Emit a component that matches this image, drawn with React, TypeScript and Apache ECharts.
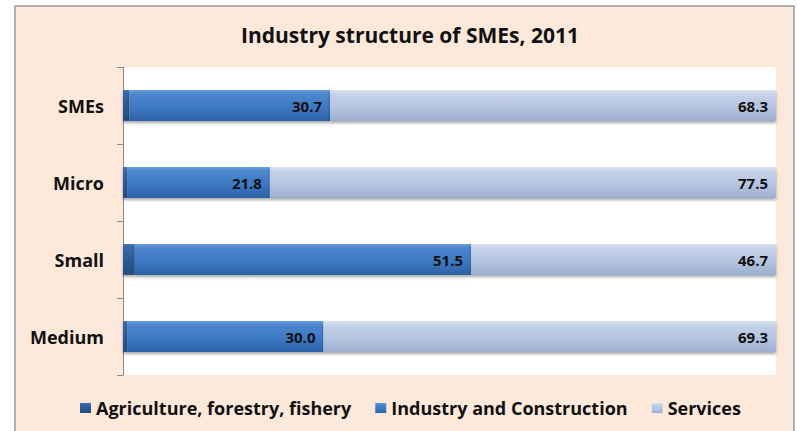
import React, { useEffect, useRef } from "react";
import * as echarts from "echarts";

const categories = ["SMEs", "Micro", "Small", "Medium"];
const agriculture = [1.0, 0.7, 1.8, 0.7];
const industry = [30.7, 21.8, 51.5, 30.0];
const services = [68.3, 77.5, 46.7, 69.3];

const FONT = "'Open Sans', Lato, sans-serif";

export default function App() {
  const ref = useRef<HTMLDivElement>(null);
  useEffect(() => {
    const chart = echarts.init(ref.current!, null, { renderer: "svg" });
    const shadow = {
      shadowBlur: 3,
      shadowOffsetY: 2,
      shadowColor: "rgba(0,0,0,0.35)",
    };
    const label = {
      show: true,
      position: "insideRight" as const,
      distance: 8,
      color: "#111",
      fontWeight: "bold" as const,
      fontSize: 15,
      fontFamily: FONT,
      formatter: (p: any) => Number(p.value).toFixed(1),
    };
    chart.setOption({
      animation: false,
      backgroundColor: "#ffffff",
      graphic: [
        {
          type: "rect",
          shape: { x: 15, y: 6, width: 779, height: 440 },
          style: { fill: "#fde9da", stroke: "#9a9a9a", lineWidth: 1.5 },
          z: -10,
          silent: true,
        },
      ],
      title: {
        text: "Industry structure of SMEs, 2011",
        left: 236,
        top: 19,
        textStyle: { fontFamily: FONT, fontWeight: "bold", fontSize: 21, color: "#111" },
      },
      grid: {
        left: 123,
        right: 21,
        top: 67,
        bottom: 56,
        show: true,
        backgroundColor: "#ffffff",
        borderWidth: 0,
      },
      xAxis: {
        type: "value",
        min: 0,
        max: 100,
        show: false,
      },
      yAxis: {
        type: "category",
        data: categories,
        inverse: true,
        axisLine: { show: true, lineStyle: { color: "#8c8c8c", width: 1 } },
        axisTick: { show: true, length: 6, lineStyle: { color: "#8c8c8c" } },
        axisLabel: {
          margin: 19,
          color: "#111",
          fontWeight: "bold",
          fontSize: 18,
          fontFamily: FONT,
        },
        splitLine: { show: false },
      },
      legend: {
        bottom: 9,
        left: 75,
        icon: "rect",
        itemWidth: 11,
        itemHeight: 10,
        itemGap: 24,
        textStyle: { fontFamily: FONT, fontWeight: "bold", fontSize: 18, color: "#111" },
        data: ["Agriculture, forestry, fishery", "Industry and Construction", "Services"],
      },
      series: [
        {
          name: "Agriculture, forestry, fishery",
          type: "bar",
          stack: "s",
          barWidth: "40%",
          data: agriculture,
          itemStyle: {
            color: new echarts.graphic.LinearGradient(0, 0, 0, 1, [
              { offset: 0, color: "#3c6cad" },
              { offset: 0.5, color: "#2c5b98" },
              { offset: 1, color: "#234b80" },
            ]),
            ...shadow,
          },
        },
        {
          name: "Industry and Construction",
          type: "bar",
          stack: "s",
          barWidth: "40%",
          data: industry,
          label,
          itemStyle: {
            color: new echarts.graphic.LinearGradient(0, 0, 0, 1, [
              { offset: 0, color: "#6a9fdc" },
              { offset: 0.12, color: "#4d87cf" },
              { offset: 0.6, color: "#3b77c2" },
              { offset: 1, color: "#2d62a6" },
            ]),
            ...shadow,
          },
        },
        {
          name: "Services",
          type: "bar",
          stack: "s",
          barWidth: "40%",
          data: services,
          label,
          itemStyle: {
            color: new echarts.graphic.LinearGradient(0, 0, 0, 1, [
              { offset: 0, color: "#d9e2f1" },
              { offset: 0.15, color: "#c4d1e8" },
              { offset: 0.6, color: "#b3c3df" },
              { offset: 1, color: "#9cafd0" },
            ]),
            ...shadow,
          },
        },
      ],
    });
    return () => chart.dispose();
  }, []);
  return (
    <div
      ref={ref}
      style={{ position: "fixed", left: 0, top: 0, width: 797, height: 431 }}
    />
  );
}
